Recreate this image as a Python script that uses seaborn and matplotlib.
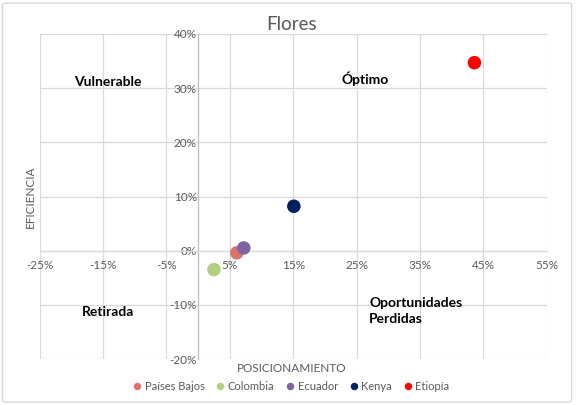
import matplotlib
matplotlib.use("Agg")
import matplotlib.pyplot as plt
import seaborn as sns
import pandas as pd
from matplotlib.ticker import FuncFormatter, FixedLocator
from matplotlib.patches import FancyBboxPatch

# ---- data ----
countries = ["Países Bajos", "Colombia", "Ecuador", "Kenya", "Etiopía"]
posicionamiento = [6.1, 2.5, 7.2, 15.1, 43.6]   # x, %
eficiencia = [-0.4, -3.5, 0.5, 8.2, 34.7]       # y, %
colors = ["#D9736C", "#B4CF83", "#8064A2", "#002060", "#FF0000"]
x_ticks = [-25, -15, -5, 5, 15, 25, 35, 45, 55]
y_ticks = [-20, -10, 0, 10, 20, 30, 40]
quadrants = ["Vulnerable", "Óptimo", "Retirada", "Oportunidades\nPerdidas"]
quad_x = [-14.3, 26.4, -14.3, 27.0]
quad_y = [31.1, 31.7, -11.3, -11.1]
quad_ha = ["center", "center", "center", "left"]

df = pd.DataFrame({"País": countries, "x": posicionamiento, "y": eficiencia})

sns.set_theme(style="white")
plt.rcParams["font.family"] = ["Lato", "DejaVu Sans"]

fig = plt.figure(figsize=(5.76, 4.05), dpi=100)
ax = fig.add_axes([39.7 / 576, 1 - 359 / 405, 507 / 576, 325 / 405])

sns.scatterplot(data=df, x="x", y="y", hue="País", palette=colors,
                s=95, edgecolor="none", linewidth=0, ax=ax, zorder=5, legend=True)

ax.set_xlim(-25, 55)
ax.set_ylim(-20, 40)
ax.xaxis.set_major_locator(FixedLocator(x_ticks))
ax.yaxis.set_major_locator(FixedLocator(y_ticks))
fmt = FuncFormatter(lambda v, p: f"{v:.0f}%")
ax.xaxis.set_major_formatter(fmt)
ax.yaxis.set_major_formatter(fmt)

ax.grid(True, color="#D9D9D9", linewidth=0.9)
ax.set_axisbelow(True)
for s in ["top", "right"]:
    ax.spines[s].set_visible(False)
ax.spines["left"].set_position(("data", 0))
ax.spines["bottom"].set_position(("data", 0))
ax.spines["left"].set_color("#BFBFBF")
ax.spines["bottom"].set_color("#D9D9D9")
ax.spines["left"].set_linewidth(0.9)
ax.spines["bottom"].set_linewidth(0.9)
ax.tick_params(axis="both", length=0, labelsize=8.5, labelcolor="#595959")
ax.tick_params(axis="x", pad=6.5)
ax.tick_params(axis="y", pad=1)

ax.set_xlabel("POSICIONAMIENTO", fontsize=8.5, color="#595959")
ax.set_ylabel("EFICIENCIA", fontsize=8.5, color="#595959")
ax.xaxis.set_label_coords(0.497, -0.03)
ax.yaxis.set_label_coords(-0.019, 0.5)
ax.xaxis.label.set_va("center")
ax.yaxis.label.set_va("center")

for t, xq, yq, ha in zip(quadrants, quad_x, quad_y, quad_ha):
    ax.text(xq, yq, t, ha=ha, va="center", fontsize=10, fontweight="bold",
            color="black", linespacing=1.45)

fig.text(292 / 576, 1 - 25 / 405, "Flores", ha="center", va="center",
         fontsize=13.5, color="#595959")

leg = ax.legend(loc="center", bbox_to_anchor=(291 / 576, 1 - 386 / 405),
                bbox_transform=fig.transFigure, ncol=5, frameon=False,
                fontsize=8, handlelength=0.8, handletextpad=0.3,
                columnspacing=1.0, markerscale=0.55, borderaxespad=0,
                borderpad=0)
for txt in leg.get_texts():
    txt.set_color("#595959")

border = FancyBboxPatch((2.5 / 576, 3 / 405), 569 / 576, 399 / 405,
                        boxstyle="round,pad=0,rounding_size=0.006",
                        transform=fig.transFigure, fill=False,
                        edgecolor="#D9D9D9", linewidth=1.0)
fig.patches.append(border)

fig.savefig("out.png", dpi=100)
